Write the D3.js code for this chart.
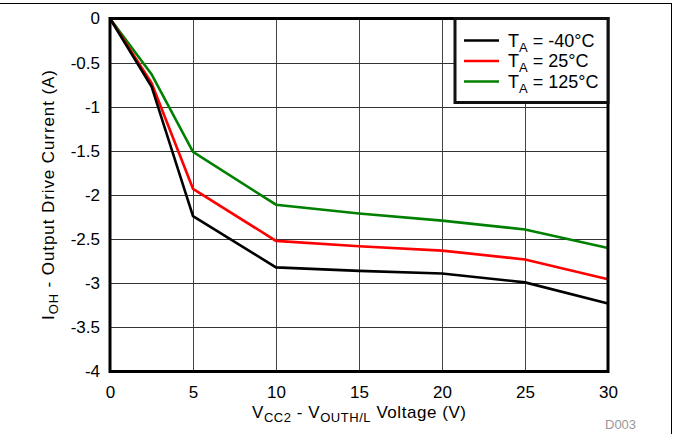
<!DOCTYPE html>
<html><head><meta charset="utf-8">
<script src="https://cdn.jsdelivr.net/npm/d3@7"></script>
<style>body{margin:0;background:#fff}svg{display:block}text{font-family:"Liberation Sans",Arial,sans-serif}</style>
</head><body><svg id="c" width="673" height="434"></svg>
<script>
const xVals = [0, 2.5, 5, 10, 15, 20, 25, 30];
const seriesNames = ["-40°C", "25°C", "125°C"];
const seriesColors = ["#000000", "#ff0000", "#008000"];
const tMinus40 = [0, -0.77, -2.24, -2.82, -2.86, -2.89, -2.99, -3.23];
const t25 = [0, -0.73, -1.93, -2.52, -2.58, -2.63, -2.73, -2.955];
const t125 = [0, -0.63, -1.51, -2.11, -2.21, -2.29, -2.39, -2.60];
const xTicks = [0, 5, 10, 15, 20, 25, 30];
const yTicks = [0, -0.5, -1, -1.5, -2, -2.5, -3, -3.5, -4];

const svg = d3.select("#c");
const L = 110, R = 608, T = 18.5, B = 371.5;
const x = d3.scaleLinear().domain([0, 30]).range([L, R]);
const y = d3.scaleLinear().domain([0, -4]).range([T, B]);
const FF = '"Liberation Sans",Arial,sans-serif';

// outer border (top and right visible)
svg.append("rect").attr("x", -2).attr("y", 3.5).attr("width", 673.5).attr("height", 440)
  .attr("fill", "none").attr("stroke", "#000").attr("stroke-width", 1);

// grid
const g = svg.append("g");
g.selectAll(".vx").data(xTicks.slice(1, -1)).join("line")
  .attr("x1", d => Math.round(x(d)) + 0.5).attr("x2", d => Math.round(x(d)) + 0.5)
  .attr("y1", T).attr("y2", B).attr("stroke", "#444").attr("stroke-width", 1);
g.selectAll(".hy").data(yTicks.slice(1, -1)).join("line")
  .attr("y1", d => Math.round(y(d)) + 0.5).attr("y2", d => Math.round(y(d)) + 0.5)
  .attr("x1", L).attr("x2", R).attr("stroke", "#333").attr("stroke-width", 1);

// axes with D3
const xAxis = d3.axisBottom(x).tickValues(xTicks).tickSize(0).tickPadding(14).tickFormat(d3.format("d"));
svg.append("g").attr("transform", `translate(0,${B})`).call(xAxis)
  .call(s => s.select(".domain").remove())
  .call(s => s.selectAll("text").attr("font-size", 17).attr("fill", "#000").attr("font-family", FF));
const yAxis = d3.axisLeft(y).tickValues(yTicks).tickSize(0).tickPadding(10).tickFormat(d => d === 0 ? "0" : String(d));
svg.append("g").attr("transform", `translate(${L},0)`).call(yAxis)
  .call(s => s.select(".domain").remove())
  .call(s => s.selectAll("text").attr("font-size", 17).attr("fill", "#000").attr("font-family", FF));

// series lines
const data = [tMinus40, t25, t125];
const line = d3.line().x((d, i) => x(xVals[i])).y(d => y(d));
[2, 1, 0].forEach(k => {
  svg.append("path").attr("d", line(data[k])).attr("fill", "none")
    .attr("stroke", seriesColors[k]).attr("stroke-width", 2.6).attr("stroke-linejoin", "miter");
});

// plot frame
svg.append("rect").attr("x", L).attr("y", T).attr("width", R - L).attr("height", B - T)
  .attr("fill", "none").attr("stroke", "#000").attr("stroke-width", 3);

// legend
const lg = svg.append("g");
lg.append("rect").attr("x", 455).attr("y", T).attr("width", R - 455).attr("height", 102.5 - T)
  .attr("fill", "#fff").attr("stroke", "#111").attr("stroke-width", 3);
seriesNames.forEach((n, i) => {
  const yy = 40.5 + i * 20.5;
  lg.append("line").attr("x1", 464).attr("x2", 499).attr("y1", yy).attr("y2", yy)
    .attr("stroke", seriesColors[i]).attr("stroke-width", 2.6);
  const t = lg.append("text").attr("x", 508).attr("y", yy + 6).attr("font-size", 18).attr("fill", "#000");
  t.append("tspan").text("T");
  t.append("tspan").attr("font-size", 13).attr("dy", 5).text("A");
  t.append("tspan").attr("dy", -5).text(" = " + n);
});

// x axis title
const xt = svg.append("text").attr("x", (L + R) / 2).attr("y", 418).attr("text-anchor", "middle")
  .attr("font-size", 17).attr("fill", "#000").attr("textLength", 214);
xt.append("tspan").text("V");
xt.append("tspan").attr("font-size", 13).attr("dy", 4).text("CC2");
xt.append("tspan").attr("dy", -4).text(" - V");
xt.append("tspan").attr("font-size", 13).attr("dy", 4).text("OUTH/L");
xt.append("tspan").attr("dy", -4).text(" Voltage (V)");

// y axis title
const yt = svg.append("text").attr("transform", `translate(54,${(T + B) / 2}) rotate(-90)`)
  .attr("text-anchor", "middle").attr("font-size", 17).attr("fill", "#000").attr("textLength", 250);
yt.append("tspan").text("I");
yt.append("tspan").attr("font-size", 13).attr("dy", 4).text("OH");
yt.append("tspan").attr("dy", -4).text(" - Output Drive Current (A)");

// note
svg.append("text").attr("x", 605).attr("y", 429).attr("font-size", 13).attr("fill", "#999").text("D003");
</script></body></html>
